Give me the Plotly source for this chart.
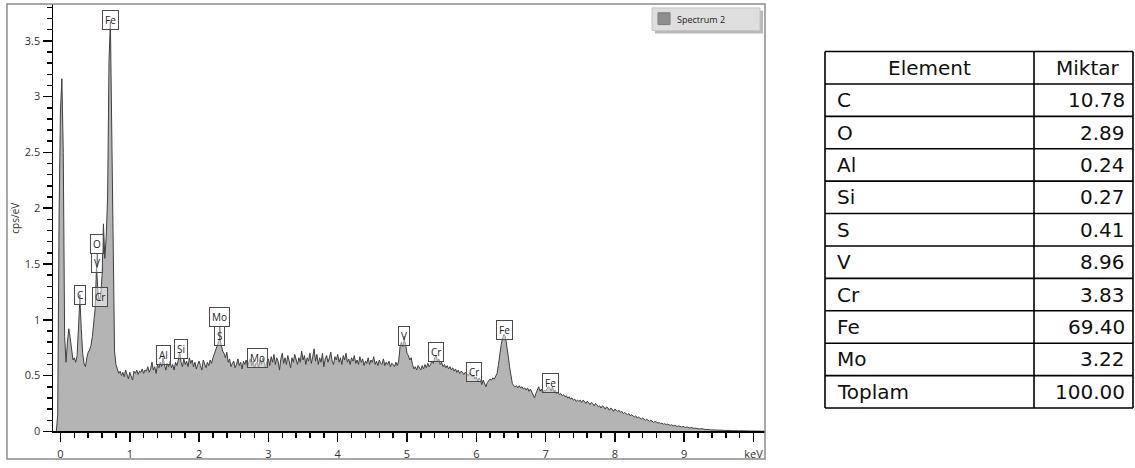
import plotly.graph_objects as go

W, H = 1135, 468

# ---------------- data ----------------
# EDS spectrum: counts (cps/eV) per channel, channels start at -0.06 keV, 0.02 keV wide
CHANNEL_START_KEV = -0.06
CHANNEL_WIDTH_KEV = 0.02
COUNTS = [
    0.00, 0.15, 1.95,                                               # -0.06
    2.88, 3.16, 2.50, 0.85, 0.62, 0.80, 0.92, 0.84, 0.71, 0.64,     # 0.00
    0.66, 0.62, 0.68, 0.95, 1.19, 0.92, 0.70, 0.61, 0.58, 0.66,     # 0.20
    0.71, 0.73, 0.77, 0.85, 0.98, 1.10, 1.48, 1.25, 1.17, 1.22,     # 0.40
    1.40, 1.86, 1.55, 1.75, 2.10, 3.32, 3.67, 2.58, 1.30, 0.72,     # 0.60
    0.60, 0.55, 0.52, 0.54, 0.50, 0.53, 0.49, 0.55, 0.51, 0.47,     # 0.80
    0.53, 0.50, 0.46, 0.54, 0.52, 0.55, 0.51, 0.54, 0.53, 0.56,     # 1.00
    0.52, 0.55, 0.54, 0.58, 0.53, 0.56, 0.62, 0.55, 0.58, 0.52,     # 1.20
    0.60, 0.57, 0.62, 0.58, 0.66, 0.60, 0.55, 0.61, 0.58, 0.63,     # 1.40
    0.57, 0.60, 0.55, 0.62, 0.59, 0.64, 0.71, 0.62, 0.58, 0.65,     # 1.60
    0.60, 0.63, 0.58, 0.66, 0.61, 0.64, 0.58, 0.62, 0.56, 0.60,     # 1.80
    0.63, 0.59, 0.55, 0.64, 0.60, 0.57, 0.62, 0.59, 0.64, 0.61,     # 2.00
    0.66, 0.70, 0.72, 0.76, 0.80, 0.83, 0.78, 0.72, 0.70, 0.66,     # 2.20
    0.71, 0.62, 0.65, 0.58, 0.61, 0.63, 0.57, 0.60, 0.65, 0.59,     # 2.40
    0.62, 0.56, 0.63, 0.60, 0.64, 0.58, 0.62, 0.65, 0.59, 0.63,     # 2.60
    0.57, 0.61, 0.62, 0.58, 0.64, 0.60, 0.66, 0.61, 0.57, 0.63,     # 2.80
    0.65, 0.59, 0.67, 0.62, 0.69, 0.60, 0.66, 0.63, 0.55, 0.65,     # 3.00
    0.70, 0.61, 0.66, 0.60, 0.68, 0.63, 0.57, 0.66, 0.62, 0.69,     # 3.20
    0.64, 0.60, 0.66, 0.62, 0.72, 0.64, 0.68, 0.60, 0.66, 0.63,     # 3.40
    0.70, 0.61, 0.67, 0.74, 0.63, 0.69, 0.60, 0.66, 0.62, 0.70,     # 3.60
    0.58, 0.65, 0.68, 0.62, 0.66, 0.71, 0.63, 0.60, 0.67, 0.64,     # 3.80
    0.69, 0.62, 0.66, 0.60, 0.68, 0.64, 0.70, 0.62, 0.65, 0.60,     # 4.00
    0.66, 0.63, 0.68, 0.61, 0.64, 0.60, 0.67, 0.62, 0.65, 0.59,     # 4.20
    0.63, 0.61, 0.66, 0.60, 0.64, 0.62, 0.67, 0.60, 0.63, 0.59,     # 4.40
    0.64, 0.61, 0.60, 0.65, 0.59, 0.62, 0.60, 0.63, 0.58, 0.61,     # 4.60
    0.60, 0.58, 0.62, 0.59, 0.63, 0.76, 0.80, 0.76, 0.82, 0.78,     # 4.80
    0.70, 0.68, 0.64, 0.66, 0.60, 0.56, 0.58, 0.55, 0.59, 0.57,     # 5.00
    0.55, 0.59, 0.56, 0.60, 0.57, 0.61, 0.58, 0.60, 0.63, 0.61,     # 5.20
    0.66, 0.68, 0.63, 0.65, 0.60, 0.62, 0.58, 0.60, 0.57, 0.59,     # 5.40
    0.56, 0.58, 0.55, 0.57, 0.54, 0.56, 0.53, 0.55, 0.52, 0.54,     # 5.60
    0.53, 0.51, 0.53, 0.52, 0.50, 0.52, 0.51, 0.49, 0.50, 0.47,     # 5.80
    0.49, 0.45, 0.48, 0.46, 0.42, 0.46, 0.43, 0.40, 0.44, 0.46,     # 6.00
    0.47, 0.46, 0.48, 0.47, 0.49, 0.52, 0.60, 0.70, 0.78, 0.84,     # 6.20
    0.87, 0.85, 0.78, 0.68, 0.58, 0.48, 0.43, 0.41, 0.40, 0.41,     # 6.40
    0.39, 0.41, 0.39, 0.40, 0.38, 0.39, 0.37, 0.39, 0.36, 0.38,     # 6.60
    0.35, 0.33, 0.30, 0.34, 0.37, 0.40, 0.36, 0.38, 0.35, 0.37,     # 6.80
    0.36, 0.38, 0.40, 0.39, 0.36, 0.40, 0.35, 0.37, 0.34, 0.35,     # 7.00
    0.33, 0.34, 0.32, 0.33, 0.31, 0.32, 0.30, 0.31, 0.29, 0.30,     # 7.20
    0.28, 0.29, 0.27, 0.28, 0.27, 0.28, 0.26, 0.28, 0.27, 0.25,     # 7.40
    0.27, 0.26, 0.24, 0.26, 0.25, 0.23, 0.25, 0.24, 0.22, 0.23,     # 7.60
    0.21, 0.23, 0.22, 0.20, 0.22, 0.21, 0.19, 0.21, 0.20, 0.18,     # 7.80
    0.20, 0.19, 0.18, 0.19, 0.17, 0.18, 0.16, 0.17, 0.16, 0.15,     # 8.00
    0.16, 0.14, 0.15, 0.14, 0.13, 0.14, 0.12, 0.13, 0.12, 0.11,     # 8.20
    0.12, 0.11, 0.10, 0.11, 0.10, 0.09, 0.10, 0.09, 0.08, 0.09,     # 8.40
    0.08, 0.075, 0.08, 0.07, 0.075, 0.065, 0.07, 0.06, 0.065, 0.06, # 8.60
    0.055, 0.06, 0.05, 0.055, 0.05, 0.045, 0.05, 0.045, 0.04, 0.045,# 8.80
    0.04, 0.035, 0.04, 0.035, 0.03, 0.035, 0.03, 0.028, 0.03, 0.025,# 9.00
    0.027, 0.022, 0.025, 0.02, 0.022, 0.018, 0.02, 0.016, 0.018, 0.014,  # 9.20
    0.016, 0.013, 0.014, 0.012, 0.013, 0.011, 0.012, 0.010, 0.011, 0.009, # 9.40
    0.010, 0.009, 0.008, 0.009, 0.007, 0.008, 0.007, 0.006, 0.007, 0.006, # 9.60
    0.006, 0.005, 0.006, 0.005, 0.005, 0.004, 0.005, 0.004, 0.004, 0.004, # 9.80
    0.004, 0.003, 0.004, 0.003, 0.003, 0.003, 0.003, 0.002, 0.003, 0.002, # 10.00
]

# peak labels: element, energy (keV), height (cps/eV) at pointer tip
PEAK_ELEMENTS = ["Fe", "C", "Cr", "Al", "Si", "Mo", "V", "Cr", "Cr", "Fe", "Fe"]
PEAK_KEV      = [0.72, 0.28, 0.57, 1.49, 1.74, 2.84, 4.96, 5.42, 5.96, 6.41, 7.07]
PEAK_CPS      = [3.67, 1.19, 1.17, 0.65, 0.70, 0.62, 0.82, 0.68, 0.50, 0.87, 0.40]
# stacked (overlapping) labels: lower, upper
STACKED_LOWER = ["V", "S"]
STACKED_UPPER = ["O", "Mo"]
STACKED_KEV   = [0.53, 2.30]
STACKED_CPS   = [1.47, 0.82]

Y_TICKS = [0, 0.5, 1, 1.5, 2, 2.5, 3, 3.5]
Y_TICK_TEXT = ["0", "0.5", "1", "1.5", "2", "2.5", "3", "3.5"]
X_TICKS = [0, 1, 2, 3, 4, 5, 6, 7, 8, 9, 10]
X_TICK_TEXT = ["0", "1", "2", "3", "4", "5", "6", "7", "8", "9", "keV"]

SERIES_NAME = "Spectrum 2"

TABLE_HEADER = ["Element", "Miktar"]
TABLE_ELEMENTS = ["C", "O", "Al", "Si", "S", "V", "Cr", "Fe", "Mo"]
TABLE_AMOUNTS = [10.78, 2.89, 0.24, 0.27, 0.41, 8.96, 3.83, 69.40, 3.22]
TABLE_TOTAL_LABEL = "Toplam"
TABLE_TOTAL = 100.00

# ---------------- helpers ----------------
def fx(px):
    return px / W

def fy(py):
    return 1 - py / H

# plot area in pixels
PL, PR, PT, PB = 53, 765, 4, 438

fig = go.Figure()
fig.add_trace(go.Scatter(
    x0=CHANNEL_START_KEV, dx=CHANNEL_WIDTH_KEV, y=COUNTS,
    mode="lines", line=dict(color="#3f3f3f", width=1),
    fill="tozeroy", fillcolor="#b4b4b4", name=SERIES_NAME,
    showlegend=False, hoverinfo="skip",
))

TICK_FONT = dict(family="Open Sans, Noto Sans, sans-serif", size=11, color="#333333")

fig.update_layout(
    width=W, height=H,
    margin=dict(l=0, r=0, t=0, b=0),
    paper_bgcolor="white", plot_bgcolor="white",
    showlegend=False,
    xaxis=dict(
        domain=[fx(PL), fx(PR)], range=[-0.108, 10.166],
        showgrid=False, zeroline=False,
        showline=True, linecolor="#000000", linewidth=1.5,
        tickmode="array", tickvals=X_TICKS, ticktext=X_TICK_TEXT,
        ticks="outside", ticklen=9, tickwidth=1.5, tickcolor="#000000",
        minor=dict(dtick=0.2, tick0=0, ticks="outside", ticklen=5, tickwidth=1.5, tickcolor="#000000"),
        tickfont=TICK_FONT, ticklabelstandoff=3, fixedrange=True,
    ),
    yaxis=dict(
        domain=[fy(PB), fy(PT)], range=[0, 3.83],
        showgrid=False, zeroline=False,
        showline=True, linecolor="#000000", linewidth=1.5,
        tickmode="array", tickvals=Y_TICKS, ticktext=Y_TICK_TEXT,
        ticks="outside", ticklen=9, tickwidth=1.5, tickcolor="#000000",
        minor=dict(dtick=0.1, tick0=0, ticks="outside", ticklen=5, tickwidth=1.5, tickcolor="#000000"),
        tickfont=TICK_FONT, fixedrange=True,
    ),
)

shapes = []
annotations = []

# outer chart frame
shapes.append(dict(type="rect", xref="paper", yref="paper",
                   x0=fx(7), x1=fx(765), y0=fy(466), y1=fy(4),
                   line=dict(color="#8c8c8c", width=1.5), fillcolor="rgba(0,0,0,0)", layer="above"))

# y axis title
annotations.append(dict(xref="paper", yref="paper", x=fx(15), y=fy(222), text="cps/eV",
                        xanchor="center", yanchor="middle",
                        textangle=-90, showarrow=False, font=dict(family="Open Sans, sans-serif", size=10, color="#333333")))

LABEL_FONT = dict(family="Open Sans, Noto Sans, sans-serif", size=10, color="#222222")

def peak_label(text, xv, yv, ay):
    return dict(xref="x", yref="y", x=xv, y=yv, text=text, showarrow=True,
                arrowhead=0, arrowwidth=1, arrowcolor="#4a4a4a", ax=0, ay=ay,
                font=LABEL_FONT, bordercolor="#4a4a4a", borderwidth=1, borderpad=2,
                bgcolor="rgba(255,255,255,0.45)")

for el, kv, cv in zip(PEAK_ELEMENTS, PEAK_KEV, PEAK_CPS):
    annotations.append(peak_label(el, kv, cv, -2 if cv > 3 else -4))

for lo, up, kv, cv in zip(STACKED_LOWER, STACKED_UPPER, STACKED_KEV, STACKED_CPS):
    annotations.append(peak_label(lo, kv, cv, -4))
    annotations.append(peak_label(up, kv, cv, -23))

# legend box (drawn)
shapes.append(dict(type="rect", xref="paper", yref="paper",
                   x0=fx(655), x1=fx(763), y0=fy(34), y1=fy(11),
                   line=dict(width=0), fillcolor="rgba(0,0,0,0.28)", layer="above"))
shapes.append(dict(type="rect", xref="paper", yref="paper",
                   x0=fx(652), x1=fx(760), y0=fy(31), y1=fy(8),
                   line=dict(color="#c4c4c4", width=1), fillcolor="#dedede", layer="above"))
shapes.append(dict(type="rect", xref="paper", yref="paper",
                   x0=fx(658), x1=fx(670), y0=fy(25), y1=fy(13),
                   line=dict(color="#7a7a7a", width=1), fillcolor="#8e8e8e", layer="above"))
annotations.append(dict(xref="paper", yref="paper", x=fx(675), y=fy(19.5), text=SERIES_NAME,
                        xanchor="left", yanchor="middle", showarrow=False,
                        font=dict(family="Open Sans, sans-serif", size=9, color="#222222")))

# ---------------- table ----------------
TL, TM, TR = 825, 1034, 1133
TTOP, ROWH = 52.3, 32.9
nrows = 1 + len(TABLE_ELEMENTS) + 1
TBOT = TTOP + nrows * ROWH
for k in range(nrows + 1):
    yy = TTOP + k * ROWH
    shapes.append(dict(type="line", xref="paper", yref="paper", x0=fx(TL), x1=fx(TR),
                       y0=fy(yy), y1=fy(yy), line=dict(color="#000000", width=1.6)))
for xx in (TL, TM, TR):
    shapes.append(dict(type="line", xref="paper", yref="paper", x0=fx(xx), x1=fx(xx),
                       y0=fy(TTOP), y1=fy(TBOT), line=dict(color="#000000", width=1.6)))

TFONT = dict(family="DejaVu Sans, sans-serif", size=20, color="#111111")

def row_y(k):
    return fy(TTOP + (k + 0.5) * ROWH)

annotations.append(dict(xref="paper", yref="paper", x=fx((TL + TM) / 2), y=row_y(0), text=TABLE_HEADER[0],
                        showarrow=False, xanchor="center", yanchor="middle", font=TFONT))
annotations.append(dict(xref="paper", yref="paper", x=fx((TM + TR) / 2 + 4), y=row_y(0), text=TABLE_HEADER[1],
                        showarrow=False, xanchor="center", yanchor="middle", font=TFONT))
rows = list(zip(TABLE_ELEMENTS, TABLE_AMOUNTS)) + [(TABLE_TOTAL_LABEL, TABLE_TOTAL)]
for i, (name, val) in enumerate(rows):
    annotations.append(dict(xref="paper", yref="paper", x=fx(TL + 10), y=row_y(i + 1), text=name,
                            showarrow=False, xanchor="left", yanchor="middle", font=TFONT))
    annotations.append(dict(xref="paper", yref="paper", x=fx(TR - 6), y=row_y(i + 1), text=f"{val:.2f}",
                            showarrow=False, xanchor="right", yanchor="middle", font=TFONT))

fig.update_layout(shapes=shapes, annotations=annotations)

fig.write_html("out.html", config={"displayModeBar": False, "staticPlot": True},
               post_script="document.body.style.margin='0';")
